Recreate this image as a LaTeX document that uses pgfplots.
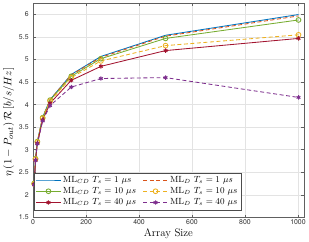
\documentclass[border=0pt]{standalone}
\usepackage{fontspec}
\usepackage{pgfplots}
\pgfplotsset{compat=1.18}
\newfontfamily\tickfont{TeX Gyre Heros}
\definecolor{mblue}{rgb}{0,0.447,0.741}
\definecolor{morange}{rgb}{0.85,0.325,0.098}
\definecolor{myellow}{rgb}{0.929,0.694,0.125}
\definecolor{mpurple}{rgb}{0.494,0.184,0.556}
\definecolor{mgreen}{rgb}{0.466,0.674,0.188}
\definecolor{mred}{rgb}{0.635,0.078,0.184}
\pgfplotstableread{
x blue orange green yellow red purple
4 2.25 2.25 2.25 2.24 2.23 2.22
9 2.80 2.80 2.80 2.79 2.77 2.76
16 3.18 3.18 3.18 3.17 3.14 3.13
36 3.72 3.72 3.71 3.70 3.66 3.64
64 4.11 4.11 4.10 4.08 4.03 3.98
144 4.67 4.66 4.63 4.60 4.54 4.39
256 5.07 5.05 5.02 4.97 4.85 4.58
500 5.54 5.52 5.47 5.31 5.20 4.60
1002 6.00 5.97 5.88 5.55 5.47 4.16
}\data
\begin{document}
\begin{tikzpicture}
\begin{axis}[
  scale only axis, width=272bp, height=215bp,
  xmin=0, xmax=1022, ymin=1.5, ymax=6.25,
  xtick={0,200,...,1000}, ytick={1.5,2,...,6},
  grid=major, grid style={gray!22, line width=0.4pt},
  axis line style={gray!75!black, line width=0.5pt},
  tick style={gray!75!black, line width=0.4pt}, tick align=inside, major tick length=2.5pt,
  ticklabel style={font=\tickfont\fontsize{7}{8}\selectfont, text=black!80},
  /pgf/number format/assume math mode=true,
  xticklabel style={/pgf/number format/1000 sep={}, yshift=1pt},
  yticklabel style={xshift=-1pt},
  xlabel={Array Size},
  ylabel={$\eta\,(1-P_{out})\,\mathcal{R}\,[b/s/Hz]$},
  label style={font=\fontsize{11}{12}\selectfont},
  xlabel style={yshift=3pt},
  ylabel style={yshift=-2pt, xshift=-12bp},
  legend style={at={(0.004,0.034)}, anchor=south west, legend columns=2,
    font=\fontsize{9}{10}\selectfont, draw=gray!60!black, fill=white,
    row sep=-0.3pt, inner sep=1.5pt, /tikz/every even column/.append style={column sep=5pt}},
  legend cell align=left,
  legend image code/.code={\draw[mark repeat=2,mark phase=2,#1] plot coordinates {(0cm,0cm)(0.43cm,0cm)(0.86cm,0cm)};},
  every axis plot/.append style={line width=0.85pt},
]
\addplot[mblue, no markers] table[x=x,y=blue]{\data};
\addlegendentry{ML$_{CD}$ $T_s=1\ \mu s$}
\addplot[morange, no markers, dash pattern=on 4pt off 2.6pt] table[x=x,y=orange]{\data};
\addlegendentry{ML$_{D}$ $T_s=1\ \mu s$}
\addplot[mgreen, mark=o, mark size=2.4pt, mark options={solid}] table[x=x,y=green]{\data};
\addlegendentry{ML$_{CD}$ $T_s=10\ \mu s$}
\addplot[myellow, mark=o, mark size=2.4pt, mark options={solid}, dash pattern=on 4pt off 2.6pt] table[x=x,y=yellow]{\data};
\addlegendentry{ML$_{D}$ $T_s=10\ \mu s$}
\addplot[mred, mark=asterisk, mark size=2.2pt, mark options={solid, line width=1pt}] table[x=x,y=red]{\data};
\addlegendentry{ML$_{CD}$ $T_s=40\ \mu s$}
\addplot[mpurple, mark=asterisk, mark size=2.2pt, mark options={solid, line width=1pt}, dash pattern=on 4pt off 2.6pt] table[x=x,y=purple]{\data};
\addlegendentry{ML$_{D}$ $T_s=40\ \mu s$}
\end{axis}
\path ([yshift=3.3bp]current axis.north east) ++(3.7bp,0);
\end{tikzpicture}
\end{document}
